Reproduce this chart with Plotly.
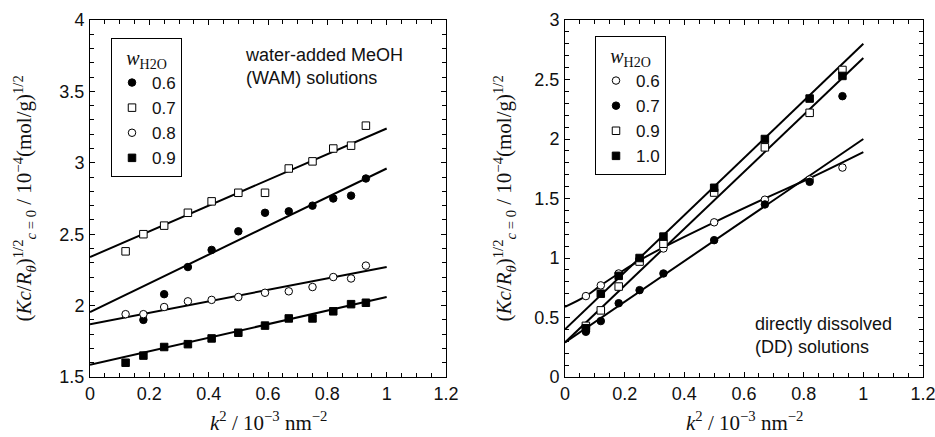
import plotly.graph_objects as go

# ---------------- data: water-added MeOH (WAM) solutions ----------------
x_wam = [0.12, 0.18, 0.25, 0.33, 0.41, 0.50, 0.59, 0.67, 0.75, 0.82, 0.88, 0.93]
wam_06 = [None, 1.90, 2.08, 2.27, 2.39, 2.52, 2.65, 2.66, 2.70, 2.75, 2.77, 2.89]
wam_07 = [2.38, 2.50, 2.56, 2.65, 2.73, 2.79, 2.79, 2.96, 3.01, 3.10, 3.12, 3.26]
wam_08 = [1.94, 1.94, 1.99, 2.03, 2.04, 2.06, 2.09, 2.10, 2.13, 2.20, 2.19, 2.28]
wam_09 = [1.60, 1.65, 1.71, 1.73, 1.77, 1.81, 1.86, 1.91, 1.91, 1.96, 2.01, 2.02]

fit_x = [0.0, 1.0]
wam_fit_06 = [1.955, 2.96]
wam_fit_07 = [2.34, 3.24]
wam_fit_08 = [1.87, 2.27]
wam_fit_09 = [1.585, 2.06]

# ---------------- data: directly dissolved (DD) solutions ----------------
x_dd = [0.07, 0.12, 0.18, 0.25, 0.33, 0.50, 0.67, 0.82, 0.93]
dd_06 = [0.68, 0.77, 0.87, 0.99, 1.08, 1.30, 1.49, 1.66, 1.76]
dd_07 = [0.38, 0.47, 0.62, 0.73, 0.87, 1.15, 1.45, 1.64, 2.36]
dd_09 = [0.43, 0.56, 0.76, 0.97, 1.12, 1.55, 1.93, 2.22, 2.58]
dd_10 = [0.41, 0.70, 0.85, 1.00, 1.18, 1.59, 2.00, 2.34, 2.53]

dd_curve_x_06 = [0.0, 0.07, 0.12, 0.18, 0.25, 0.33, 0.50, 0.67, 0.82, 1.0]
dd_curve_y_06 = [0.59, 0.68, 0.77, 0.87, 0.98, 1.09, 1.30, 1.50, 1.67, 1.89]
dd_fit_07 = [0.29, 2.00]
dd_fit_09 = [0.29, 2.68]
dd_fit_10 = [0.40, 2.80]

wam_labels = ["0.6", "0.7", "0.8", "0.9"]
dd_labels = ["0.6", "0.7", "0.9", "1.0"]

SANS = "Arial, Liberation Sans, sans-serif"
SERIF = "Times New Roman, Liberation Serif, serif"
W, H = 935, 437

fig = go.Figure()

def line(x, y, xa, ya, shape="linear"):
    fig.add_trace(go.Scatter(x=x, y=y, mode="lines", xaxis=xa, yaxis=ya,
                             line=dict(color="black", width=2, shape=shape),
                             showlegend=False, hoverinfo="skip"))

def pts(x, y, name, symbol, filled, xa, ya, legend):
    fig.add_trace(go.Scatter(x=x, y=y, mode="markers", name=name, xaxis=xa, yaxis=ya,
                             legend=legend,
                             marker=dict(symbol=symbol, size=7.5,
                                         color="black" if filled else "white",
                                         line=dict(color="black", width=1))))

# left panel
line(fit_x, wam_fit_06, "x", "y")
line(fit_x, wam_fit_07, "x", "y")
line(fit_x, wam_fit_08, "x", "y")
line(fit_x, wam_fit_09, "x", "y")
pts(x_wam, wam_06, wam_labels[0], "circle", True, "x", "y", "legend")
pts(x_wam, wam_07, wam_labels[1], "square", False, "x", "y", "legend")
pts(x_wam, wam_08, wam_labels[2], "circle", False, "x", "y", "legend")
pts(x_wam, wam_09, wam_labels[3], "square", True, "x", "y", "legend")

# right panel
line(dd_curve_x_06, dd_curve_y_06, "x2", "y2", shape="spline")
line(fit_x, dd_fit_07, "x2", "y2")
line(fit_x, dd_fit_09, "x2", "y2")
line(fit_x, dd_fit_10, "x2", "y2")
pts(x_dd, dd_06, dd_labels[0], "circle", False, "x2", "y2", "legend2")
pts(x_dd, dd_07, dd_labels[1], "circle", True, "x2", "y2", "legend2")
pts(x_dd, dd_09, dd_labels[2], "square", False, "x2", "y2", "legend2")
pts(x_dd, dd_10, dd_labels[3], "square", True, "x2", "y2", "legend2")

ax_common = dict(showline=True, linecolor="black", linewidth=1, mirror="ticks",
                 ticks="inside", ticklen=5, tickwidth=1, tickcolor="black",
                 showgrid=False, zeroline=False, automargin=False,
                 ticklabeloverflow="allow",
                 tickfont=dict(family=SANS, size=18, color="#111"))

x_px = lambda p: p / W
y_px = lambda p: 1 - (p - 20) / 357

fig.update_layout(
    width=W, height=H,
    margin=dict(l=0, r=0, t=20, b=60),
    paper_bgcolor="white", plot_bgcolor="white",
    xaxis=dict(domain=[x_px(90), x_px(446)], range=[0, 1.2], dtick=0.2, anchor="y",
               minor=dict(dtick=0.05, ticks="inside", ticklen=4, tickcolor="black"),
               ticklabelstandoff=0, **ax_common),
    yaxis=dict(domain=[0, 1], range=[1.5, 4], dtick=0.5, anchor="x",
               minor=dict(dtick=0.1, ticks="inside", ticklen=4, tickcolor="black"),
               ticklabelstandoff=1, **ax_common),
    xaxis2=dict(domain=[x_px(565), x_px(923)], range=[0, 1.2], dtick=0.2, anchor="y2",
                minor=dict(dtick=0.05, ticks="inside", ticklen=4, tickcolor="black"),
                ticklabelstandoff=0, **ax_common),
    yaxis2=dict(domain=[0, 1], range=[0, 3], dtick=0.5, anchor="x2",
                minor=dict(dtick=0.1, ticks="inside", ticklen=4, tickcolor="black"),
                ticklabelstandoff=1, **ax_common),
    legend=dict(x=x_px(111), y=y_px(38), xanchor="left", yanchor="top",
                bordercolor="black", borderwidth=1, bgcolor="white",
                font=dict(family=SANS, size=17, color="#111"),
                itemwidth=30, tracegroupgap=0,
                title=dict(text="<i>w</i><sub>H2O</sub>", side="top center",
                           font=dict(family=SERIF, size=20, color="#111"))),
    legend2=dict(x=x_px(595), y=y_px(36), xanchor="left", yanchor="top",
                 bordercolor="black", borderwidth=1, bgcolor="white",
                 font=dict(family=SANS, size=17, color="#111"),
                 itemwidth=30, tracegroupgap=0,
                 title=dict(text="<i>w</i><sub>H2O</sub>", side="top center",
                            font=dict(family=SERIF, size=20, color="#111"))),
    showlegend=True,
)

ytitle = ("(<i>Kc</i>/<i>R</i><sub><i>θ</i></sub>)<sup>1/2</sup><sub><i>c</i> = 0</sub>"
          " / 10<sup>−4</sup>(mol/g)<sup>1/2</sup>")
xtitle = "<i>k</i><sup>2</sup> / 10<sup>−3</sup> nm<sup>−2</sup>"

ann = [
    dict(text=ytitle, x=x_px(24), y=0.5, xref="paper", yref="paper", textangle=-90,
         showarrow=False, xanchor="center", yanchor="middle",
         font=dict(family=SERIF, size=21, color="#111")),
    dict(text=ytitle, x=x_px(504), y=0.5, xref="paper", yref="paper", textangle=-90,
         showarrow=False, xanchor="center", yanchor="middle",
         font=dict(family=SERIF, size=21, color="#111")),
    dict(text=xtitle, x=0.6, y=y_px(421), xref="x", yref="paper",
         showarrow=False, xanchor="center", yanchor="middle",
         font=dict(family=SERIF, size=21, color="#111")),
    dict(text=xtitle, x=0.6, y=y_px(421), xref="x2", yref="paper",
         showarrow=False, xanchor="center", yanchor="middle",
         font=dict(family=SERIF, size=21, color="#111")),
    dict(text="water-added MeOH<br>(WAM) solutions", x=0.515, y=3.84, xref="x", yref="y",
         showarrow=False, xanchor="left", yanchor="top", align="left",
         font=dict(family=SANS, size=18, color="#111")),
    dict(text="directly dissolved<br>(DD) solutions", x=0.63, y=0.55, xref="x2", yref="y2",
         showarrow=False, xanchor="left", yanchor="top", align="left",
         font=dict(family=SANS, size=18, color="#111")),
]
fig.update_layout(annotations=ann)

fig.write_html("out.html", config={"displayModeBar": False},
               post_script="document.body.style.margin='0';")
